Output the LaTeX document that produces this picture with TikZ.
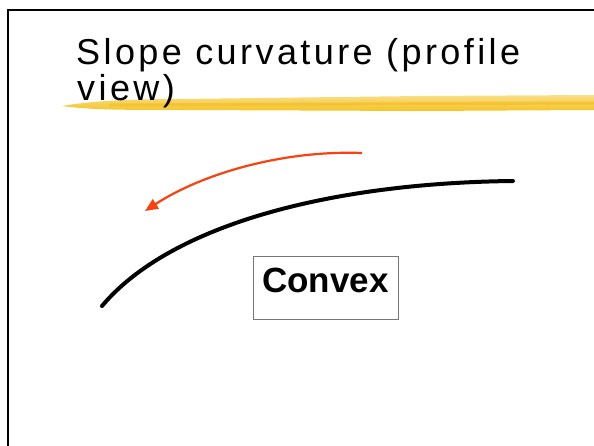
\documentclass[tikz,border=0pt]{standalone}
\usepackage{fontspec}
\setmainfont{Liberation Sans}
\newfontfamily\slidefont[LetterSpace=9.5]{Liberation Sans}
\usetikzlibrary{arrows.meta, calc, positioning}
\definecolor{markeryellow}{RGB}{244,196,38}
\definecolor{flowred}{RGB}{250,66,14}
\definecolor{boxedge}{RGB}{118,118,118}
\tikzset{
    slide frame/.style = {draw = black, line width = 2.5pt, line cap = rect},
    marker/.style      = {top color = markeryellow!55, bottom color = markeryellow, draw = none},
    marker streak/.style = {draw = markeryellow!85!orange, line width = 3pt, line cap = round, opacity = 0.6},
    title/.style       = {font = \slidefont\fontsize{36}{38}\selectfont, anchor = base west, inner sep = 0pt},
    profile/.style     = {draw = black, line width = 4pt, line cap = round},
    flow/.style        = {draw = flowred, line width = 2.2pt, -{Triangle[length=13pt, width=11pt]}},
    label box/.style   = {draw = boxedge, line width = 1pt, inner sep = 0pt, minimum width = 145pt,
                          text height = 35pt, text depth = 27pt, font = \fontsize{35}{35}\selectfont\bfseries}
}
\begin{document}
\begin{tikzpicture}[x=1pt, y=-1pt]
		\useasboundingbox (0,0) rectangle (594,446);
		\draw[slide frame] (8,460) -- (8,10) -- (610,10);

		% highlighter under the title
		\path[marker] (62,106) .. controls (90,101) and (130,99) .. (180,99) -- (420,96) -- (594,95) -- (594,110) -- (420,111) -- (180,110) .. controls (130,110) and (90,110) .. (62,106) -- cycle;
		\draw[marker streak] (110,105) -- (594,103);

		\node[title] (title) at (76,65) {Slope curvature (profile};
		\node[title] (title cont) at ($(title.base west)+(1,36)$) {view)};

		% hillslope profile
		\coordinate (toe) at (102,306);
		\coordinate (crest) at (513,181);
		\draw[profile] (toe) .. controls (170,225) and (330,183) .. (crest);

		\coordinate (flow start) at (362,153);
		\coordinate (flow end) at (145,211);
		\draw[flow] (flow start) .. controls (280,150) and (200,175) .. (flow end);

		\node[label box, anchor=base] (convex) at (325.5,292) {Convex};
\end{tikzpicture}
\end{document}
